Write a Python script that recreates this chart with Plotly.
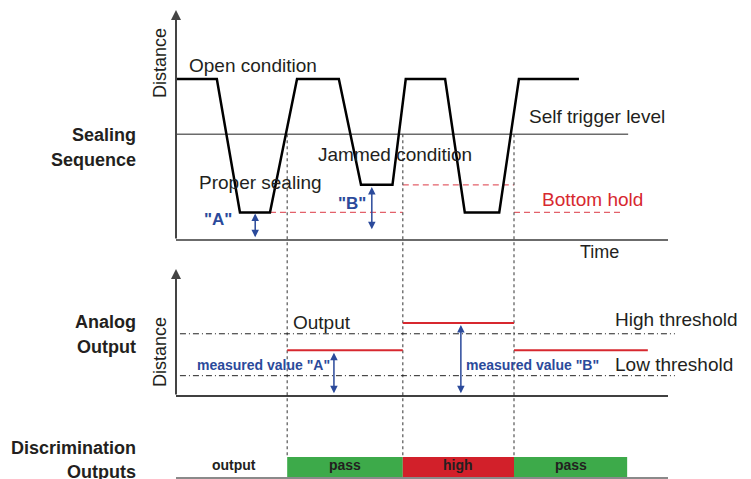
import plotly.graph_objects as go

# ---------------- data ----------------
wave_time = [0, 8.3, 13.0, 19.1, 24.6, 33.1, 37.6, 44.0, 46.7, 54.7, 58.7, 65.7, 69.7, 81.9]
wave_dist = [70, 70, 12, 12, 70, 70, 24, 24, 70, 70, 12, 12, 70, 70]
trigger_level = 46
trigger_end = 91.9
trigger_times = [22.6, 46.1, 68.7]
bottom_A = 12
bottom_B = 24
hold_end = 90.9
arrow_A_top = [16.1, 0.5, 11.5]   # time, from, to
arrow_B_top = [39.8, 4, 23]
high_threshold = 49
low_threshold = 16
threshold_span = [0.8, 101.4]
output_A = 36
output_B = 57.5
output_end = 95.9
arrow_A_mid = [32.1, 1, 34]
arrow_B_mid = [57.9, 1, 56]
disc_labels = ["pass", "high", "pass"]
disc_start = [22.6, 46.1, 68.7]
disc_end = [46.1, 68.7, 91.7]
disc_colors = ["#3DAA4A", "#D2202A", "#3DAA4A"]
axis_len = 100

# ---------------- geometry (page pixels) ----------------
PW, PH = 751, 479     # browser page
OFF = 8               # default body margin of the page
W, H = PW - OFF, PH - OFF
X0, XS = 176, 4.92
TOP_BASE, TOP_S = 240, 2.3
MID_BASE, MID_S = 396, 1.27
BOT_BASE, BOT_S = 478, 21


def yr(base, s):
    return [(base - PH) / s, (base - OFF) / s]


def top_from_bot(v):
    px = BOT_BASE - v * BOT_S
    return (TOP_BASE - px) / TOP_S


TXT = "#231F20"
BLUE = "#2B4A9B"
RED = "#D7282F"
GRAY = "#6b6b6b"
FONT = "Liberation Sans, Arial, sans-serif"

fig = go.Figure()

# top panel
fig.add_trace(go.Scatter(x=[0, axis_len], y=[0, 0], mode="lines",
                         line=dict(color=GRAY, width=2), yaxis="y"))
fig.add_trace(go.Scatter(x=[0, trigger_end], y=[trigger_level] * 2, mode="lines",
                         line=dict(color=GRAY, width=1.5), yaxis="y"))
hx = [wave_time[3], trigger_times[1], None, trigger_times[1], trigger_times[2], None, trigger_times[2], hold_end]
hy = [bottom_A, bottom_A, None, bottom_B, bottom_B, None, bottom_A, bottom_A]
fig.add_trace(go.Scatter(x=hx, y=hy, mode="lines",
                         line=dict(color="#E3606A", width=1.3, dash="6px,4px"), yaxis="y"))
vx, vy = [], []
for t in trigger_times:
    vx += [t, t, None]
    vy += [trigger_level, top_from_bot(1), None]
fig.add_trace(go.Scatter(x=vx, y=vy, mode="lines",
                         line=dict(color="#555555", width=1.2, dash="dot"), yaxis="y"))
fig.add_trace(go.Scatter(x=wave_time, y=wave_dist, mode="lines",
                         line=dict(color="black", width=2.5), yaxis="y"))

# middle panel
for lvl in [high_threshold, low_threshold]:
    fig.add_trace(go.Scatter(x=threshold_span, y=[lvl, lvl], mode="lines",
                             line=dict(color="#222222", width=1, dash="6px,3px,1px,3px"), yaxis="y2"))
fig.add_trace(go.Scatter(x=[0, axis_len], y=[0, 0], mode="lines",
                         line=dict(color="black", width=1.5), yaxis="y2"))
ox = [trigger_times[0], trigger_times[1], None, trigger_times[1], trigger_times[2], None, trigger_times[2], output_end]
oy = [output_A, output_A, None, output_B, output_B, None, output_A, output_A]
fig.add_trace(go.Scatter(x=ox, y=oy, mode="lines",
                         line=dict(color=RED, width=2), yaxis="y2"))

# bottom panel
fig.add_trace(go.Bar(y=[0.5] * 3, x=[e - s for s, e in zip(disc_start, disc_end)], base=disc_start,
                     orientation="h", width=1, marker=dict(color=disc_colors, line=dict(width=0)),
                     yaxis="y3"))
fig.add_trace(go.Scatter(x=[0, axis_len], y=[0, 0], mode="lines",
                         line=dict(color="#8a8a8a", width=2), yaxis="y3"))

ann = []


def txt(x, y, s, yref="y", size=19, color=TXT, bold=False, xanchor="left", angle=0, xref="x"):
    ann.append(dict(x=x, y=y, xref=xref, yref=yref, text=("<b>%s</b>" % s) if bold else s,
                    showarrow=False, xanchor=xanchor, yanchor="middle", textangle=angle,
                    font=dict(family=FONT, size=size, color=color)))


def arrow(x, y0, y1, yref, color, both=False, width=1.5):
    ann.append(dict(x=x, y=y1, ax=x, ay=y0, xref="x", yref=yref, axref="x", ayref=yref,
                    showarrow=True, arrowhead=2, arrowsize=1, arrowwidth=width,
                    arrowside="end+start" if both else "end", arrowcolor=color,
                    standoff=0, startstandoff=0, text=""))


# axis arrows
arrow(0, 0, axis_len, "y", "#444444", width=2)
arrow(0, 0, axis_len, "y2", "#444444", width=2)
arrow(arrow_A_top[0], arrow_A_top[1], arrow_A_top[2], "y", BLUE, both=True)
arrow(arrow_B_top[0], arrow_B_top[1], arrow_B_top[2], "y", BLUE, both=True)
arrow(arrow_A_mid[0], arrow_A_mid[1], arrow_A_mid[2], "y2", BLUE, both=True)
arrow(arrow_B_mid[0], arrow_B_mid[1], arrow_B_mid[2], "y2", BLUE, both=True)

# top labels
txt(2.2, 75.7, "Open condition")
txt(71.3, 53.9, "Self trigger level")
txt(28.5, 37.2, "Jammed condition")
txt(4.3, 25, "Proper sealing")
txt(74.0, 17.4, "Bottom hold", color=RED)
txt(8.5, 8.7, '"A"', size=17, color=BLUE, bold=True, xanchor="center")
txt(35.8, 15.9, '"B"', size=17, color=BLUE, bold=True, xanchor="center")
txt(-3.25, 77, "Distance", size=18, xanchor="center", angle=-90)
txt(81.7, -5.4, "Time", size=18)

# middle labels
txt(23.4, 57.9, "Output", yref="y2")
txt(88.8, 60.2, "High threshold", yref="y2")
txt(88.8, 24.7, "Low threshold", yref="y2")
txt(3.9, 24.4, 'measured value "A"', yref="y2", size=14, color=BLUE, bold=True)
txt(58.5, 24.4, 'measured value "B"', yref="y2", size=14, color=BLUE, bold=True)
txt(-3.25, 34.6, "Distance", yref="y2", size=18, xanchor="center", angle=-90)

# bottom labels
txt(11.8, 0.62, "output", yref="y3", size=14, bold=True, xanchor="center")
for s, e, lab in zip(disc_start, disc_end, disc_labels):
    txt((s + e) / 2, 0.62, lab, yref="y3", size=14, bold=True, xanchor="center")

# section titles (paper coords)
for label, ypx in [("Sealing", 135), ("Sequence", 160), ("Analog", 322), ("Output", 347),
                   ("Discrimination", 448), ("Outputs", 472)]:
    txt((138 - OFF) / W, 1 - (ypx - OFF) / H, label, yref="paper", xref="paper",
        size=18, bold=True, xanchor="right")

fig.update_layout(
    width=W, height=H, autosize=False,
    margin=dict(l=0, r=0, t=0, b=0),
    paper_bgcolor="white", plot_bgcolor="white",
    showlegend=False, barmode="overlay",
    xaxis=dict(range=[(OFF - X0) / XS, (PW - X0) / XS], visible=False, domain=[0, 1]),
    yaxis=dict(range=yr(TOP_BASE, TOP_S), visible=False, domain=[0, 1]),
    yaxis2=dict(range=yr(MID_BASE, MID_S), visible=False, overlaying="y"),
    yaxis3=dict(range=yr(BOT_BASE, BOT_S), visible=False, overlaying="y"),
    annotations=ann,
)

fig.write_html("out.html")
